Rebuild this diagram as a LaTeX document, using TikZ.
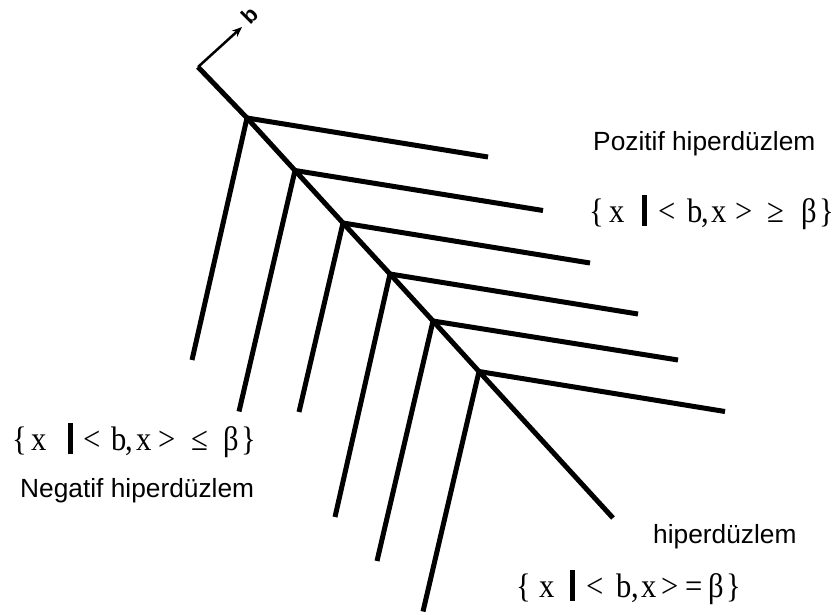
\documentclass[tikz,border=0pt]{standalone}
\usepackage{fontspec}
\setmainfont{Liberation Serif}
\newfontfamily\arialf{Liberation Sans}
\newfontfamily\eqfont[FakeStretch=0.9]{Liberation Serif}
\usetikzlibrary{arrows.meta,calc}
\newcommand\vbarmark{\rule[-4pt]{4.5pt}{31pt}}
\newcommand\gl[2]{\rlap{\hspace*{#1pt}#2}}
\begin{document}
\begin{tikzpicture}[x=1pt,y=-1pt,
  hp/.style={line width=5pt, line join=miter},
  lbl/.style={font=\arialf\fontsize{26.3}{30}\selectfont, inner sep=0, anchor=base west},
  eq/.style={font=\eqfont\fontsize{34}{38}\selectfont, inner sep=0, anchor=base west}]
\useasboundingbox (0,0) rectangle (837,615);
% main line points
\coordinate (c) at (198,67);
\coordinate (t) at (242,27);
\coordinate (p1) at (247,118);
\coordinate (p2) at (295,170.5);
\coordinate (p3) at (343,223);
\coordinate (p4) at (390,274);
\coordinate (p5) at (433,321);
\coordinate (p6) at (479,371.5);
\coordinate (e) at (613,518);
% right ends
\coordinate (r1) at ($(p1)+(241,39)$);
\coordinate (r2) at ($(p2)+(248,40)$);
\coordinate (r3) at ($(p3)+(247,40)$);
\coordinate (r4) at ($(p4)+(248,40)$);
\coordinate (r5) at ($(p5)+(245,39)$);
\coordinate (r6) at ($(p6)+(246,40)$);
% left ends
\coordinate (l1) at ($(p1)+(-55,242)$);
\coordinate (l2) at ($(p2)+(-56,241)$);
\coordinate (l3) at ($(p3)+(-44,189)$);
\coordinate (l4) at ($(p4)+(-55,243)$);
\coordinate (l5) at ($(p5)+(-56,240)$);
\coordinate (l6) at ($(p6)+(-56,240)$);
% b vector
\draw[line width=2.5pt, -{Stealth[length=10pt,width=8pt]}] (c) -- (t);
\node[font=\arialf\bfseries\fontsize{22}{24}\selectfont, rotate=45, inner sep=0] (bl) at (250,15) {b};
% main hyperplane
\draw[hp] (c) -- (p1) -- (p2) -- (p3) -- (p4) -- (p5) -- (p6) -- (e);
\foreach \i in {1,...,6}{
  \draw[hp] (p\i) -- (r\i);
  \draw[hp] (p\i) -- (l\i);
}
% labels
\node[lbl] (pos) at (593,150) {Pozitif hiperdüzlem};
\node[lbl] (neg) at (20,497) {Negatif hiperdüzlem};
\node[lbl] (hyp) at (653,543) {hiperdüzlem};
\node[eq] (eqpos) at (592,222) {\gl{-3}{\{}\gl{17}{x}\gl{50}{\vbarmark}\gl{66}{<}\gl{95}{b}\gl{109}{,}\gl{119}{x}\gl{143}{>}\gl{175}{≥}\gl{209}{β}\gl{227}{\}}\hspace*{244pt}};
\node[eq] (eqneg) at (15,450) {\gl{-3}{\{}\gl{16}{x}\gl{53}{\vbarmark}\gl{68}{<}\gl{96}{b}\gl{110}{,}\gl{121}{x}\gl{143}{>}\gl{176}{≤}\gl{208}{β}\gl{226}{\}}\hspace*{244pt}};
\node[eq] (eqhyp) at (519,597) {\gl{-3}{\{}\gl{20}{x}\gl{51}{\vbarmark}\gl{67}{<}\gl{97}{b}\gl{112}{,}\gl{122}{x}\gl{142}{>}\gl{166}{=}\gl{189}{β}\gl{207}{\}}\hspace*{226pt}};
\end{tikzpicture}
\end{document}
